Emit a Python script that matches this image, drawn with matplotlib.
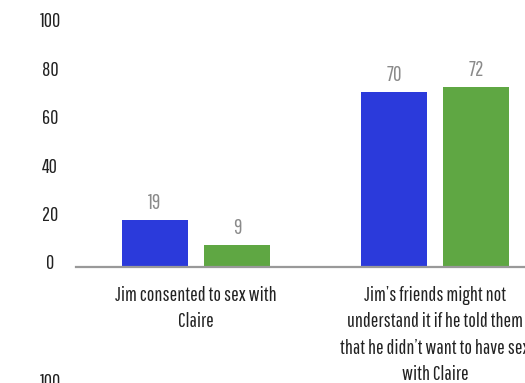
import numpy as np
import matplotlib.pyplot as plt

plt.rcParams['font.family'] = ['Pathway Gothic One', 'DejaVu Sans']

categories = ["Jim consented to sex with\nClaire",
              "Jim\u2019s friends might not\nunderstand it if he told them\nthat he didn\u2019t want to have sex\nwith Claire"]
blue_vals = [19, 70]
green_vals = [9, 72]
yticks = [0, 20, 40, 60, 80, 100]

blue = '#2b3adb'
green = '#5fa743'

fig = plt.figure(figsize=(5.25, 3.83), dpi=100)
ax = fig.add_axes([76.5/525, 1-267/383, (525-76.5)/525, 250/383])

x = np.arange(len(categories))
off = 0.1715
w = 0.276
b1 = ax.bar(x - off, blue_vals, w, color=blue)
b2 = ax.bar(x + off, green_vals, w, color=green)
for bars, vals in ((b1, blue_vals), (b2, green_vals)):
    for r, v in zip(bars, vals):
        ax.annotate(str(v), (r.get_x() + r.get_width()/2, v), xytext=(0, 5),
                    textcoords='offset points', ha='center', va='bottom',
                    fontsize=15, color='#8a8a8a')

ax.set_xlim(-0.5, 1 + (525-435)/239)
ax.set_ylim(0, 100)
ax.set_yticks([])
ax.set_xticks(x)
ax.set_xticklabels(categories, fontsize=14.5, color='#222222', linespacing=1.47)
ax.tick_params(axis='x', length=0, pad=14)
for s in ['top', 'right', 'left']:
    ax.spines[s].set_visible(False)
ax.spines['bottom'].set_color('#999999')
ax.spines['bottom'].set_linewidth(1.6)

# y labels sit on a slightly tighter scale than the bars
lab = ax.twinx()
lab.set_ylim(-2.07, 101.2)
lab.yaxis.tick_left()
lab.set_yticks(yticks)
lab.set_yticklabels([str(t) for t in yticks], fontsize=14.5, color='#222222', ha='center')
lab.tick_params(axis='y', length=0, pad=19)
for s in lab.spines.values():
    s.set_visible(False)

# next chart's top tick label, cut off at the bottom edge
fig.text(50/525, 1-382/383, '100', ha='center', va='center', fontsize=14.5, color='#222222')

fig.savefig('out.png', dpi=100)
